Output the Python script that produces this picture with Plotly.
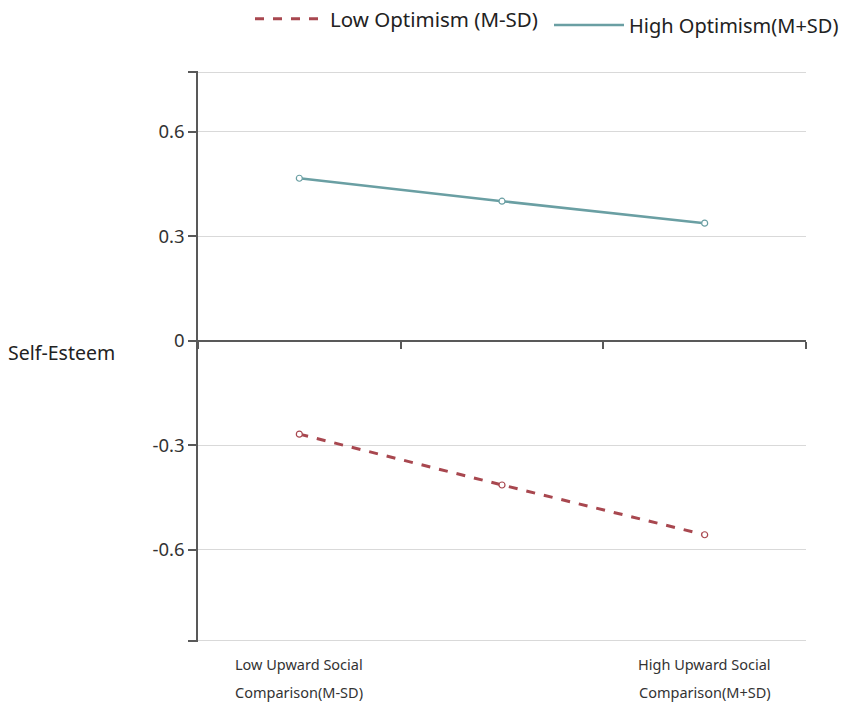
import plotly.graph_objects as go

# data
x_pos = [-1, 0, 1]
low_opt = [-0.268, -0.414, -0.557]
high_opt = [0.467, 0.401, 0.338]
series_names = ["Low Optimism (M-SD)", "High Optimism(M+SD)"]
x_tick_vals = [-1, 1]
x_tick_line1 = ["Low Upward Social", "High Upward Social"]
x_tick_line2 = ["Comparison(M-SD)", "Comparison(M+SD)"]
y_tick_vals = [-0.862, -0.6, -0.3, 0, 0.3, 0.6, 0.772]
y_tick_text = ["", "-0.6", "-0.3", "0", "0.3", "0.6", ""]
x_bounds = [-1.5, -0.5, 0.5, 1.5]

Y_MIN, Y_MAX = y_tick_vals[0] - 0.003, y_tick_vals[-1] + 0.003
RED = "#a8474f"
TEAL = "#6a9fa3"
FONT = "Noto Sans"

# the page body has an 8px margin, so the figure is a bit smaller than the window
W, H = 843, 700

fig = go.Figure()

# lines (legend) and open-circle markers (no legend) as separate traces
fig.add_trace(go.Scatter(x=x_pos, y=low_opt, mode="lines", name=series_names[0],
                         legend="legend", line=dict(color=RED, width=3, dash="dash")))
fig.add_trace(go.Scatter(x=x_pos, y=high_opt, mode="lines", name=series_names[1],
                         legend="legend2", line=dict(color=TEAL, width=2.5)))
for ys, col in [(low_opt, RED), (high_opt, TEAL)]:
    fig.add_trace(go.Scatter(x=x_pos, y=ys, mode="markers", showlegend=False,
                             marker=dict(symbol="circle", size=6, color="white",
                                         line=dict(width=1.2, color=col))))

zero_pos = (0 - Y_MIN) / (Y_MAX - Y_MIN)

leg_common = dict(orientation="h", xref="container", yref="container",
                  xanchor="left", yanchor="middle", itemwidth=70,
                  bgcolor="rgba(0,0,0,0)")

fig.update_layout(
    width=W, height=H,
    margin=dict(l=190, r=45, t=63, b=66, autoexpand=False),
    plot_bgcolor="white", paper_bgcolor="white",
    font=dict(family=FONT, color="#333333"),
    showlegend=True,
    legend=dict(leg_common, x=242 / W, y=1 - 11 / H,
                font=dict(size=20.5, color="#222222")),
    legend2=dict(leg_common, x=541 / W, y=1 - 17 / H,
                 font=dict(size=20, color="#222222")),
    xaxis=dict(range=[x_bounds[0], x_bounds[-1]], anchor="free", position=zero_pos,
               tickvals=x_bounds, showticklabels=False, automargin=False,
               showgrid=False, zeroline=False, showline=True, linecolor="#595959",
               linewidth=1.5, ticks="outside", ticklen=7, tickcolor="#595959", tickwidth=1.5),
    yaxis=dict(range=[Y_MIN, Y_MAX], tickvals=y_tick_vals, ticktext=y_tick_text,
               showgrid=True, gridcolor="#d9d9d9", gridwidth=1, zeroline=False,
               showline=True, linecolor="#595959", linewidth=1.5, automargin=False,
               ticks="outside", ticklen=8, tickcolor="#595959", tickwidth=1.5,
               tickfont=dict(size=18.5, color="#333333")),
)

# category labels under the plot, two lines each
for xv, l1, l2 in zip(x_tick_vals, x_tick_line1, x_tick_line2):
    fig.add_annotation(text=l1, xref="x", yref="paper", x=xv, y=-0.0385,
                       xanchor="center", yanchor="middle", showarrow=False,
                       font=dict(size=14.5, color="#333333"))
    fig.add_annotation(text=l2, xref="x", yref="paper", x=xv, y=-0.0876,
                       xanchor="center", yanchor="middle", showarrow=False,
                       font=dict(size=14.5, color="#333333"))

fig.add_annotation(text="Self-Esteem", xref="paper", yref="paper", x=-0.316, y=zero_pos - 0.02,
                   xanchor="left", yanchor="middle", showarrow=False,
                   font=dict(size=19.5, color="#222222"))

fig.write_html("out.html")
